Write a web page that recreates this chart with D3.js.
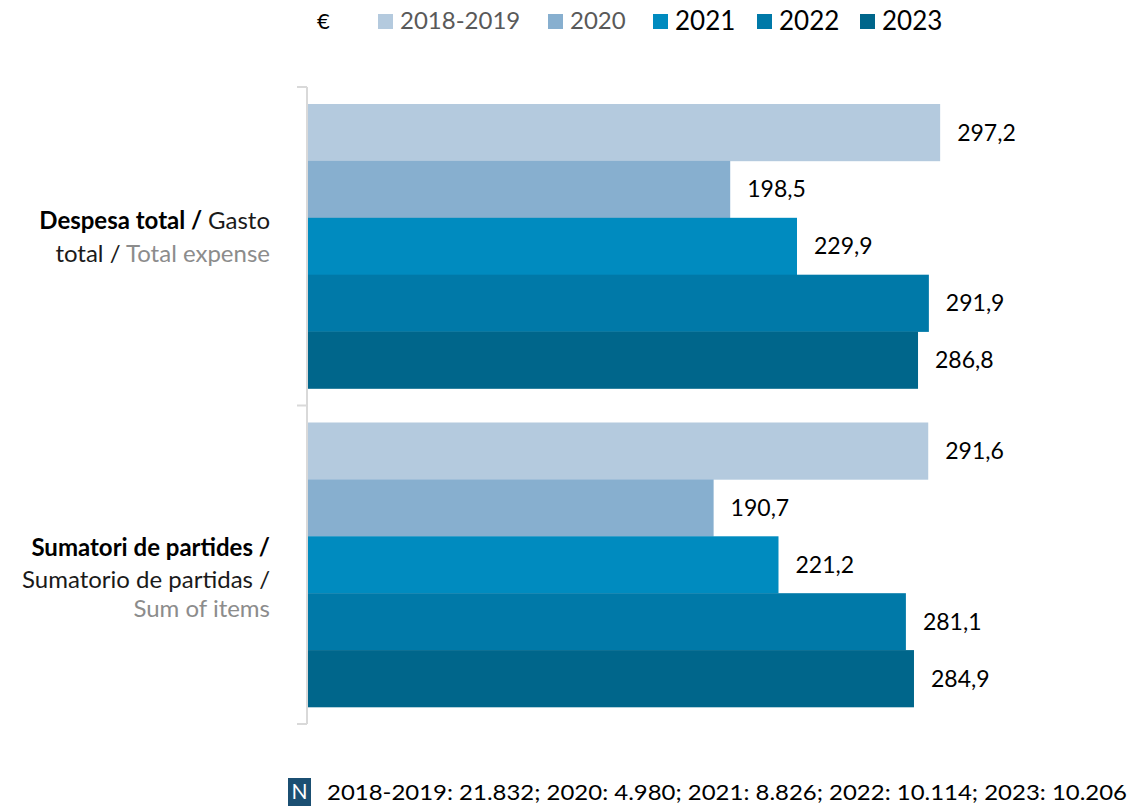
<!DOCTYPE html>
<html>
<head>
<meta charset="utf-8">
<script src="https://cdn.jsdelivr.net/npm/d3@7"></script>
<style>
  body { margin: 0; background: #fff; }
  text { font-family: Lato, "Open Sans", sans-serif; }
</style>
</head>
<body>
<div id="chart"></div>
<script>
// categories (each label split into lines: [text, style])
var categories = ["despesa", "sumatori"];
var categoryLines = {
    despesa: [
        [["Despesa total / ", "b"], ["Gasto", "n"]],
        [["total / ", "n"], ["Total expense", "g"]]
    ],
    sumatori: [
        [["Sumatori de partides /", "b"]],
        [["Sumatorio de partidas /", "n"]],
        [["Sum of items", "g"]]
    ]
};
var seriesNames = ["2018-2019", "2020", "2021", "2022", "2023"];
var seriesColors = ["#b4cade", "#87afcf", "#008bbf", "#0079a8", "#00668b"];
var legendTextColors = ["#595959", "#595959", "#000", "#000", "#000"];
var valuesDespesa = [297.2, 198.5, 229.9, 291.9, 286.8];
var valuesSumatori = [291.6, 190.7, 221.2, 281.1, 284.9];
var sampleText = "2018-2019: 21.832; 2020: 4.980; 2021: 8.826; 2022: 10.114; 2023: 10.206";

function init() {
    var w = 1130, h = 807;
    var values = { despesa: valuesDespesa, sumatori: valuesSumatori };

    var svg = d3.select("#chart").append("svg")
        .attr("width", w)
        .attr("height", h);

    var xScale = d3.scaleLinear()
        .domain([0, 350])
        .range([308, 308 + 350 * 2.127]);

    var yScale = d3.scaleBand()
        .domain(categories)
        .range([87, 724]);

    var inner = d3.scaleBand()
        .domain(seriesNames)
        .range([17, yScale.bandwidth() - 17]);

    // bars
    categories.forEach(function (c) {
        var g = svg.append("g");
        g.selectAll("rect")
            .data(values[c])
            .enter().append("rect")
            .attr("x", xScale(0))
            .attr("y", function (d, i) { return yScale(c) + inner(seriesNames[i]); })
            .attr("width", function (d) { return xScale(d) - xScale(0); })
            .attr("height", inner.bandwidth() + 0.3)
            .attr("fill", function (d, i) { return seriesColors[i]; });

        g.selectAll("text")
            .data(values[c])
            .enter().append("text")
            .attr("x", function (d) { return xScale(d) + 17; })
            .attr("y", function (d, i) { return yScale(c) + inner(seriesNames[i]) + inner.bandwidth() / 2; })
            .attr("dy", "0.35em")
            .attr("font-size", 23)
            .attr("fill", "#000")
            .text(function (d) { return d.toFixed(1).replace(".", ","); });
    });

    // axis line with ticks at band edges
    var axisG = svg.append("g").attr("stroke", "#d9d9d9").attr("stroke-width", 2);
    axisG.append("line")
        .attr("x1", 307).attr("x2", 307)
        .attr("y1", yScale.range()[0]).attr("y2", yScale.range()[1]);
    var edges = categories.map(function (c) { return yScale(c); }).concat([yScale.range()[1]]);
    axisG.selectAll(".tk").data(edges).enter().append("line")
        .attr("x1", 297).attr("x2", 307)
        .attr("y1", function (d) { return d; })
        .attr("y2", function (d) { return d; });

    // category labels
    var styleMap = {
        b: { weight: "bold", fill: "#000" },
        n: { weight: "normal", fill: "#1a1a1a" },
        g: { weight: "normal", fill: "#8c8c8c" }
    };
    var lineOffsets = { despesa: [-26, 7], sumatori: [-17, 15, 44] };
    categories.forEach(function (c) {
        var lines = categoryLines[c];
        var mid = yScale(c) + yScale.bandwidth() / 2;
        lines.forEach(function (parts, li) {
            var t = svg.append("text")
                .attr("x", 270)
                .attr("y", mid + lineOffsets[c][li])
                .attr("dy", "0.35em")
                .attr("text-anchor", "end")
                .attr("font-size", 24);
            parts.forEach(function (p) {
                t.append("tspan")
                    .attr("font-weight", styleMap[p[1]].weight)
                    .attr("fill", styleMap[p[1]].fill)
                    .text(p[0]);
            });
        });
    });

    // legend
    svg.append("text")
        .attr("x", 317).attr("y", 21).attr("dy", "0.35em")
        .attr("font-size", 22).attr("fill", "#000")
        .text("€");
    var legendX = [378, 548, 653, 757, 860];
    var lg = svg.selectAll(".legend").data(seriesNames).enter().append("g")
        .attr("transform", function (d, i) { return "translate(" + legendX[i] + ",0)"; });
    lg.append("rect")
        .attr("x", 0).attr("y", 14).attr("width", 15).attr("height", 15)
        .attr("fill", function (d, i) { return seriesColors[i]; });
    lg.append("text")
        .attr("x", 22).attr("y", 21).attr("dy", "0.35em")
        .attr("font-size", function (d, i) { return i < 2 ? 24 : 26; })
        .attr("fill", function (d, i) { return legendTextColors[i]; })
        .text(function (d) { return d; });

    // sample size footnote
    svg.append("rect")
        .attr("x", 288).attr("y", 778).attr("width", 23).attr("height", 28)
        .attr("fill", "#1b4f72");
    svg.append("text")
        .attr("x", 299.5).attr("y", 792).attr("dy", "0.35em")
        .attr("text-anchor", "middle")
        .attr("font-size", 21).attr("fill", "#fff")
        .text("N");
    svg.append("text")
        .attr("x", 327).attr("y", 792).attr("dy", "0.35em")
        .attr("font-size", 22).attr("fill", "#000")
        .attr("textLength", 800)
        .attr("lengthAdjust", "spacingAndGlyphs")
        .text(sampleText);
}

window.onload = init;
</script>
</body>
</html>
